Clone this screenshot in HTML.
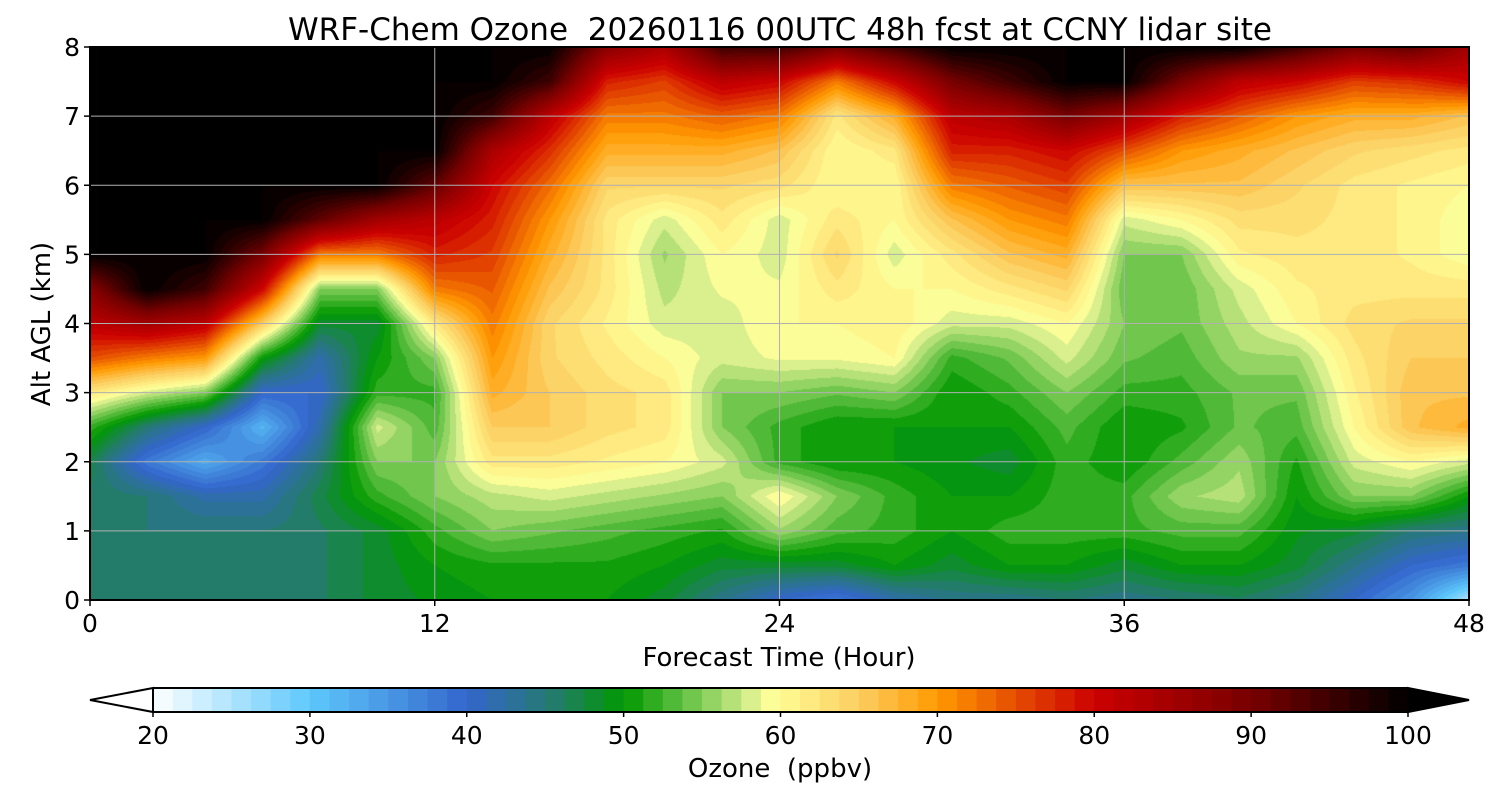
<!DOCTYPE html>
<html><head><meta charset="utf-8">
<style>
body{margin:0;background:#fff;width:1500px;height:800px;overflow:hidden;font-family:"DejaVu Sans","Liberation Sans",sans-serif;}
#wrap{position:relative;width:1500px;height:800px;}
canvas{position:absolute;}
svg{position:absolute;left:0;top:0;}
text{white-space:pre;}
</style></head><body>
<div id="wrap">
<canvas id="field" width="1379" height="553" style="left:90px;top:47px"></canvas>
<svg id="ov" width="1500" height="800"></svg>
</div>
<script>
const times=[0,2,4,6,8,10,12,14,16,18,20,22,24,26,28,30,32,34,36,38,40,42,44,46,48];
const alts=[0,0.5,1,1.5,2,2.5,3,3.5,4,4.5,5,5.5,6,6.5,7,7.5,8];
// ozone[timeIndex][altIndex]
const ozone=[
[46,46,46,46,47,52,62,75,82,88,100,100,100,100,100,100,100],
[45,45,45,45,38,45,58,72,85,100,100,100,100,100,100,100,100],
[45,45,45,42,33,40,55,70,82,95,100,100,100,100,100,100,100],
[45,45,45,42,38,32,40,50,65,80,90,100,100,100,100,100,100],
[46,46,46,47,45,42,40,42,48,55,72,92,100,100,100,100,100],
[48,48,48,52,55,58,52,50,48,55,72,85,100,100,100,100,100],
[49,50,52,55,55,53,52,55,62,72,78,82,92,100,100,100,100],
[50,51,55,57,62,65,68,70,72,74,76,78,80,84,95,100,100],
[50,51,54,58,62,65,65,64,64,66,68,70,73,77,82,95,100],
[50,51,53,57,61,63,63,62,61,62,62,62,64,68,72,78,88],
[48,50,52,56,60,62,62,60,58,57,56,58,64,68,72,76,84],
[44,48,51,55,58,55,55,58,58,59,60,62,64,68,74,82,95],
[40,48,56,60,52,52,55,59,60,59,58,58,63,66,72,80,95],
[38,48,53,55,50,50,54,59,60,62,64,62,60,60,62,72,90],
[42,50,52,52,50,50,55,60,61,60,58,60,60,62,68,80,95],
[44,48,50,50,49,50,50,52,58,60,62,66,72,78,82,90,100],
[44,50,52,50,48,50,52,54,58,62,66,70,74,78,84,95,100],
[45,50,52,52,52,53,55,58,60,64,68,72,76,80,90,100,100],
[44,48,52,52,50,50,52,54,55,54,55,58,66,75,85,100,100],
[45,50,53,56,53,51,52,53,54,54,55,60,66,70,78,90,100],
[46,50,53,57,56,54,54,56,57,58,61,63,66,68,74,82,100],
[44,48,49,50,51,53,54,56,60,61,62,63,64,66,70,80,95],
[40,44,48,55,58,60,61,62,63,62,62,62,62,64,68,76,90],
[35,40,45,55,60,66,66,65,64,62,61,61,61,63,68,77,92],
[25,38,44,50,58,68,66,65,64,62,59,59,60,62,66,80,85]
];
const xTicks=[0,12,24,36,48];
const yTicks=[0,1,2,3,4,5,6,7,8];
const cbTicks=[20,30,40,50,60,70,80,90,100];

const PX0=90,PX1=1469,PY0=600,PY1=47;
const xs=t=>PX0+(t-0)/48*(PX1-PX0);
const ys=z=>PY0-(z/8)*(PY0-PY1);
const CB0=153,CB1=1408,CBY=688,CBH=24;
const cbx=v=>CB0+(v-20)/80*(CB1-CB0);

const stops=[[20,[255,255,255]],[30,[94,200,252]],[40,[51,102,204]],[45,[40,120,120]],[50,[0,153,0]],[55,[130,205,90]],[58,[215,238,140]],[59.5,[255,255,153]],[65,[252,205,95]],[70,[255,153,0]],[80,[204,0,0]],[90,[120,0,0]],[100,[0,0,0]]];
function cmap(v){
  if(v<=20)return stops[0][1]; if(v>=100)return [0,0,0];
  for(let i=0;i<stops.length-1;i++){const a=stops[i],b=stops[i+1];
    if(v<=b[0]){const f=(v-a[0])/(b[0]-a[0]);return a[1].map((c,k)=>Math.round(c+(b[1][k]-c)*f));}}
  return [0,0,0];
}
const q=v=>Math.floor(v/1.25)*1.25+0.6;

const cv=document.getElementById('field'),ctx=cv.getContext('2d');
const W=cv.width,H=cv.height,img=ctx.createImageData(W,H);
for(let py=0;py<H;py++){
  const z=(1-(py+0.5)/H)*8; let j=Math.min(alts.length-2,Math.floor(z/0.5)); const fz=(z-alts[j])/(alts[j+1]-alts[j]);
  for(let px=0;px<W;px++){
    const t=(px+0.5)/W*48; let i=Math.min(times.length-2,Math.floor(t/2)); const ft=(t-times[i])/(times[i+1]-times[i]);
    const v=(ozone[i][j]*(1-ft)+ozone[i+1][j]*ft)*(1-fz)+(ozone[i][j+1]*(1-ft)+ozone[i+1][j+1]*ft)*fz;
    const c=cmap(q(v)); const o=(py*W+px)*4;
    img.data[o]=c[0];img.data[o+1]=c[1];img.data[o+2]=c[2];img.data[o+3]=255;
  }
}
ctx.putImageData(img,0,0);

const svg=document.getElementById('ov'),NS='http://www.w3.org/2000/svg';
function mk(tag,attrs,parent){const e=document.createElementNS(NS,tag);for(const k in attrs)e.setAttribute(k,attrs[k]);(parent||svg).appendChild(e);return e;}
xTicks.forEach(t=>{if(t>0&&t<48){const l=mk('line',{x1:xs(t),x2:xs(t),y1:PY1,y2:PY0,stroke:'#b0b0b0','stroke-width':1});

}});
yTicks.forEach(z=>{if(z>0&&z<8){const l=mk('line',{x1:PX0,x2:PX1,y1:ys(z),y2:ys(z),stroke:'#b0b0b0','stroke-width':1});

}});
const fr=mk('rect',{x:PX0,y:PY1,width:PX1-PX0,height:PY0-PY1,fill:'none',stroke:'#000','stroke-width':2});


xTicks.forEach(t=>{mk('line',{x1:xs(t),x2:xs(t),y1:PY0,y2:PY0+6,stroke:'#000','stroke-width':1.5});
const tx=mk('text',{x:xs(t),y:632,'font-size':25,'text-anchor':'middle'});tx.textContent=t;

});
yTicks.forEach(z=>{mk('line',{x1:PX0-6,x2:PX0,y1:ys(z),y2:ys(z),stroke:'#000','stroke-width':1.5});
const tx=mk('text',{x:80,y:ys(z)+9,'font-size':25,'text-anchor':'end'});tx.textContent=z;

});
let t1=mk('text',{x:780,y:40,'font-size':31,'text-anchor':'middle'});t1.textContent='WRF-Chem Ozone  20260116 00UTC 48h fcst at CCNY lidar site';


let t2=mk('text',{x:779,y:666,'font-size':26,'text-anchor':'middle'});t2.textContent='Forecast Time (Hour)';


let t3=mk('text',{x:50,y:324,'font-size':26,'text-anchor':'middle',transform:'rotate(-90 50 324)'});t3.textContent='Alt AGL (km)';


for(let v=20;v<100;v+=1.25){const c=cmap(v+0.6);const r=mk('rect',{x:cbx(v),y:CBY,width:cbx(v+1.25)-cbx(v)+0.6,height:CBH,fill:`rgb(${c})`});

}
const lt=mk('polygon',{points:`${CB0},${CBY} 90,${CBY+CBH/2} ${CB0},${CBY+CBH}`,fill:'#fff',stroke:'#000','stroke-width':2});


const rt=mk('polygon',{points:`${CB1},${CBY} 1469,${CBY+CBH/2} ${CB1},${CBY+CBH}`,fill:'#000',stroke:'#000','stroke-width':2});


mk('line',{x1:CB0,x2:CB1,y1:CBY,y2:CBY,stroke:'#000','stroke-width':2});
mk('line',{x1:CB0,x2:CB1,y1:CBY+CBH,y2:CBY+CBH,stroke:'#000','stroke-width':2});
cbTicks.forEach(v=>{mk('line',{x1:cbx(v),x2:cbx(v),y1:CBY+CBH,y2:CBY+CBH+5,stroke:'#000','stroke-width':1.5});
const tx=mk('text',{x:cbx(v),y:744,'font-size':25,'text-anchor':'middle'});tx.textContent=v;

});
let t4=mk('text',{x:780,y:777,'font-size':26,'text-anchor':'middle'});t4.textContent='Ozone  (ppbv)';


</script>
</body></html>
